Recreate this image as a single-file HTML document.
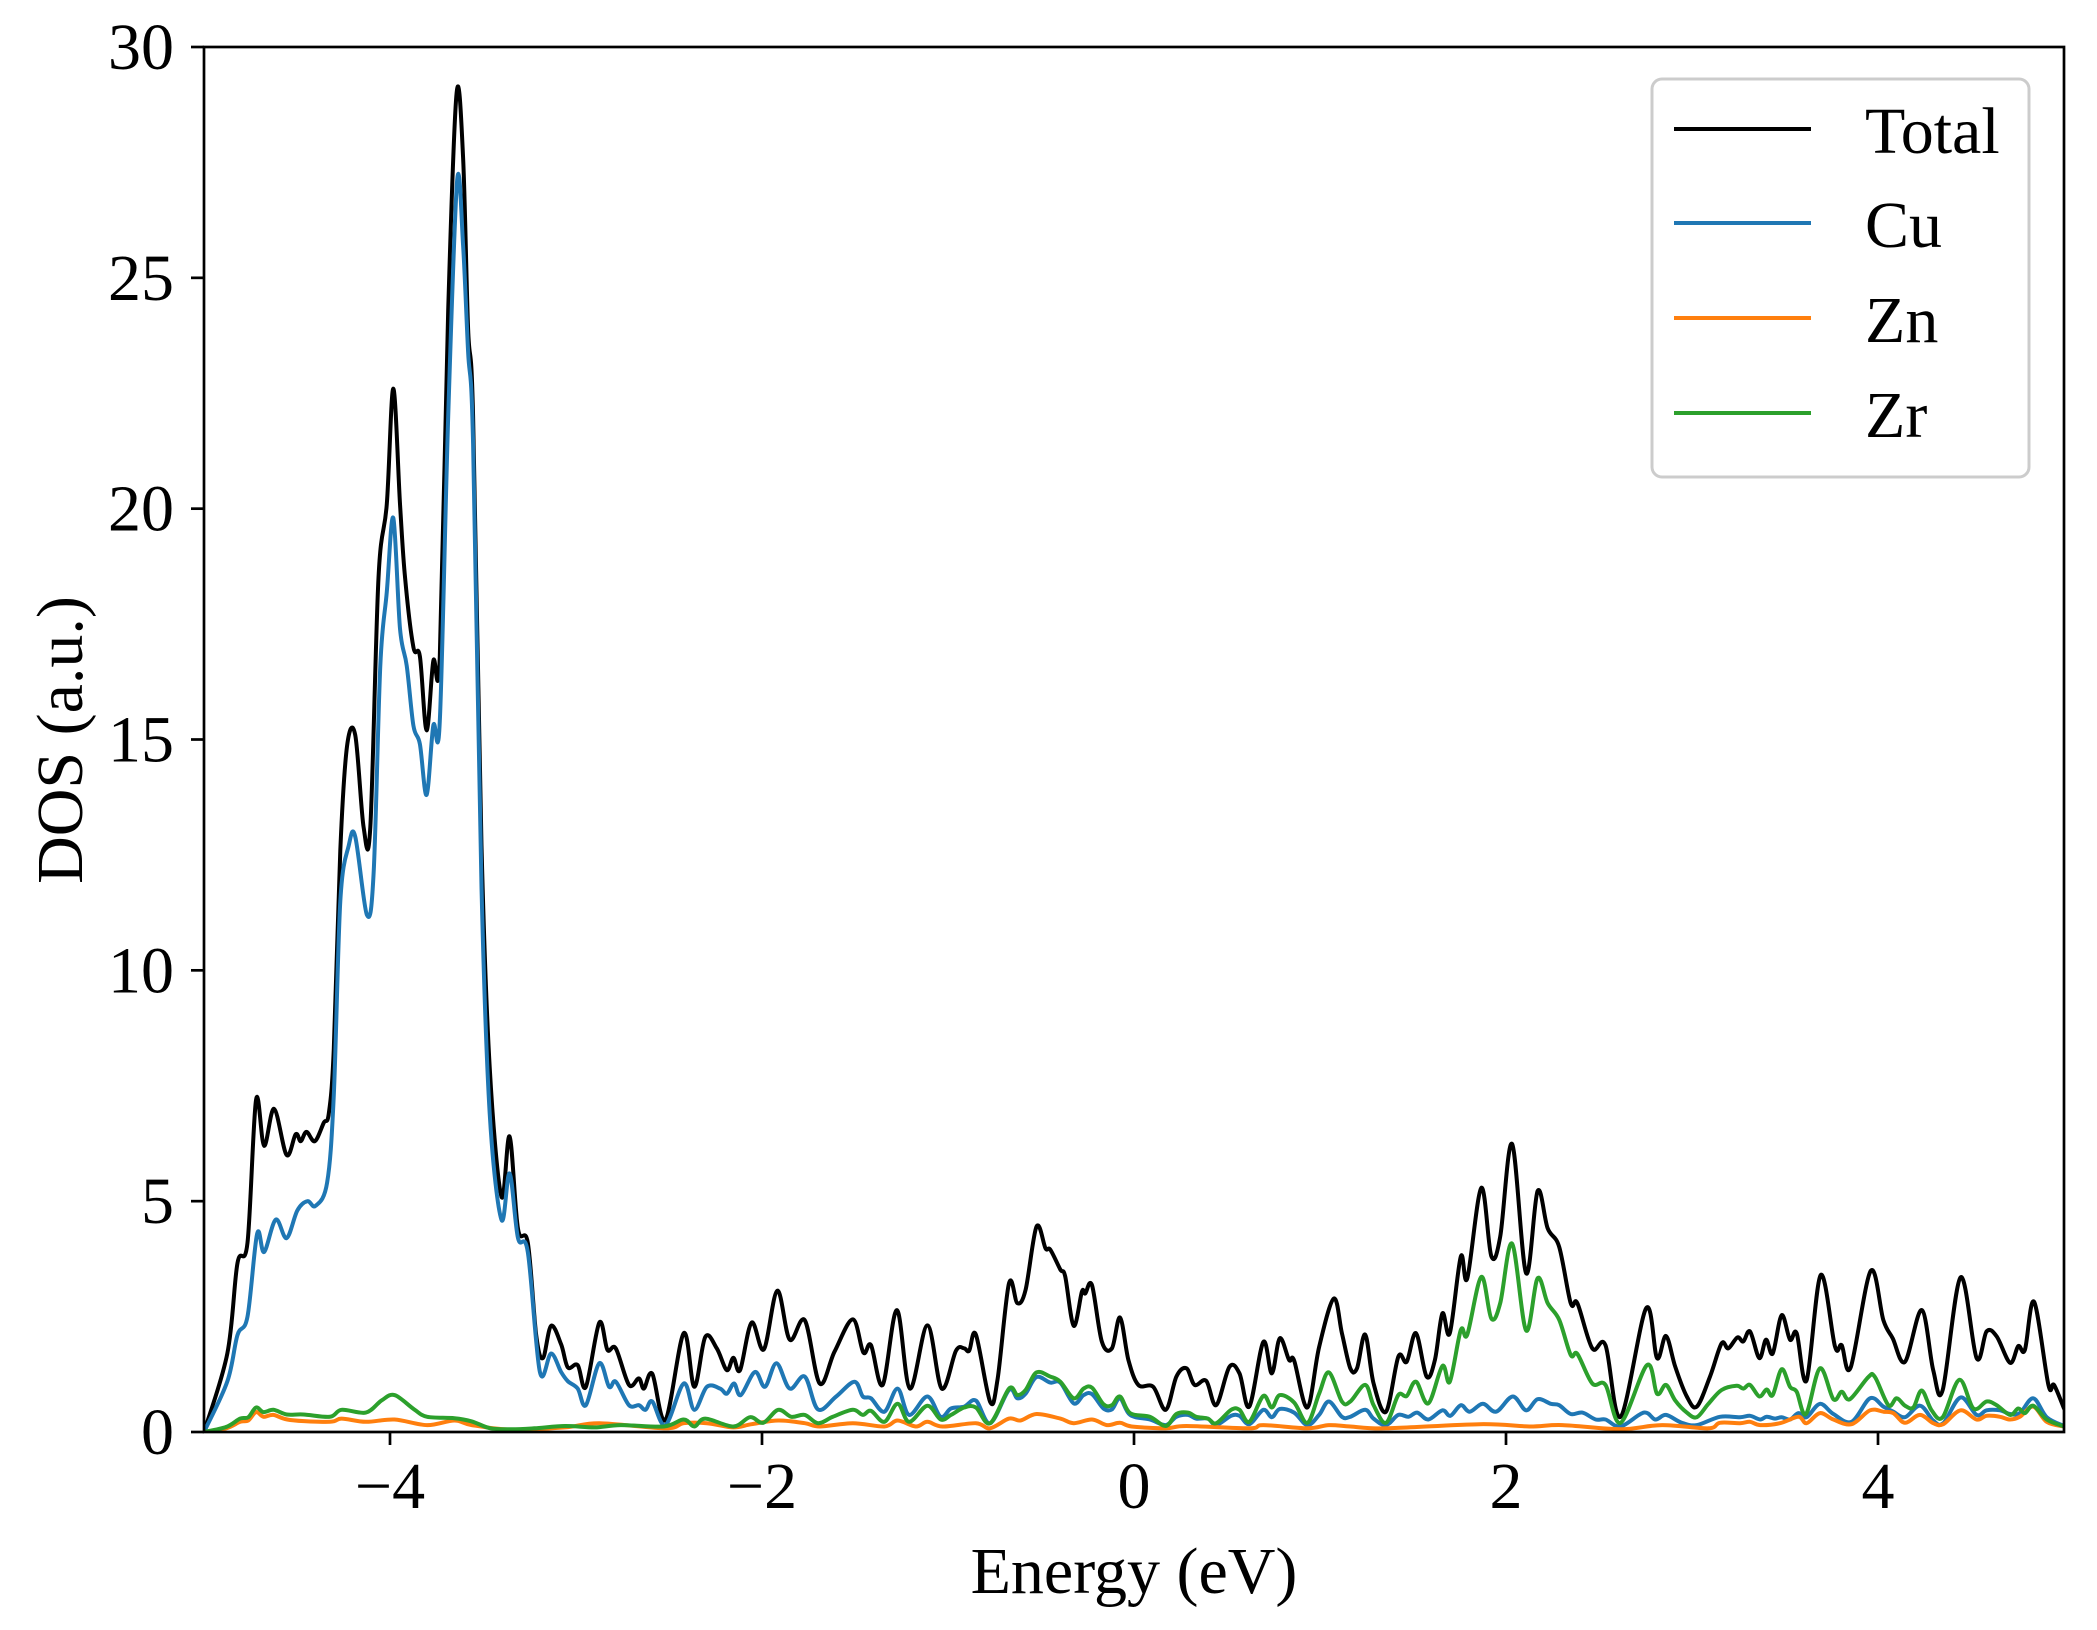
<!DOCTYPE html>
<html>
<head>
<meta charset="utf-8">
<style>
  html,body{margin:0;padding:0;background:#fff;}
  svg{display:block;}
  text{font-family:"Liberation Serif","DejaVu Serif",serif;fill:#000;}
</style>
</head>
<body>
<svg id="chart" width="2097" height="1630" viewBox="0 0 2097 1630" xmlns="http://www.w3.org/2000/svg">
  <rect x="0" y="0" width="2097" height="1630" fill="#fff"/>
  <defs>
    <clipPath id="plotclip"><rect x="204" y="47" width="1860" height="1385"/></clipPath>
  </defs>
  <g id="series" clip-path="url(#plotclip)"></g>
  <g id="axes"></g>
  <text x="1134" y="1593" font-size="66" text-anchor="middle">Energy (eV)</text>
  <text x="82" y="740" font-size="66" text-anchor="middle" transform="rotate(-90 82 740)">DOS (a.u.)</text>
  <g id="legend">
    <rect x="1652" y="79" width="377" height="398" rx="10" ry="10" fill="#fff" fill-opacity="0.8" stroke="#cccccc" stroke-width="3"/>
    <g>
      <line x1="1674" y1="129" x2="1811" y2="129" stroke="#000000" stroke-width="4"/>
      <text x="1865" y="153" font-size="66">Total</text>
    </g>
    <g>
      <line x1="1674" y1="223" x2="1811" y2="223" stroke="#1f77b4" stroke-width="4"/>
      <text x="1865" y="247" font-size="66">Cu</text>
    </g>
    <g>
      <line x1="1674" y1="318" x2="1811" y2="318" stroke="#ff7f0e" stroke-width="4"/>
      <text x="1865" y="342" font-size="66">Zn</text>
    </g>
    <g>
      <line x1="1674" y1="413" x2="1811" y2="413" stroke="#2ca02c" stroke-width="4"/>
      <text x="1865" y="437" font-size="66">Zr</text>
    </g>
  </g>
</svg>
<script>
const xTicks = [-4, -2, 0, 2, 4];
const xTickLabels = ["\u22124", "\u22122", "0", "2", "4"];
const yTicks = [0, 5, 10, 15, 20, 25, 30];
const yTickLabels = ["0", "5", "10", "15", "20", "25", "30"];

const totalE = [-5.0,-4.874,-4.82,-4.766,-4.72,-4.677,-4.623,-4.556,-4.507,-4.48,-4.449,-4.404,-4.356,-4.329,-4.302,-4.267,-4.231,-4.187,-4.142,-4.106,-4.062,-4.017,-3.982,-3.946,-3.919,-3.874,-3.839,-3.803,-3.767,-3.732,-3.687,-3.642,-3.607,-3.58,-3.553,-3.508,-3.464,-3.401,-3.357,-3.312,-3.259,-3.214,-3.178,-3.134,-3.08,-3.044,
-2.991,-2.947,-2.875,-2.831,-2.786,-2.715,-2.662,-2.635,-2.59,-2.519,-2.421,-2.364,-2.305,-2.243,-2.189,-2.154,-2.118,-2.056,-1.99,-1.918,-1.851,-1.77,-1.69,-1.61,-1.512,-1.455,-1.414,-1.351,-1.275,-1.205,-1.111,-1.034,
-0.957,-0.913,-0.886,-0.85,-0.773,-0.733,-0.672,-0.627,-0.583,-0.524,-0.476,-0.45,-0.396,-0.37,-0.324,-0.28,-0.262,-0.226,-0.173,-0.119,-0.075,-0.03,0.023,0.103,0.171,0.228,0.282,0.326,0.388,0.442,0.513,0.567,0.62,0.695,0.741,0.784,0.834,0.861,0.932,0.995,
1.074,1.118,1.163,1.199,1.243,1.288,1.355,1.421,1.466,1.516,1.573,1.618,1.658,1.698,1.757,1.792,1.867,1.921,1.969,2.033,2.108,2.17,2.224,2.286,2.348,2.384,2.464,2.535,2.616,2.753,2.812,2.86,2.91,2.972,3.026,
3.097,3.159,3.195,3.244,3.276,3.312,3.362,3.398,3.434,3.482,3.527,3.563,3.616,3.692,3.769,3.805,3.853,3.961,4.029,4.079,4.145,4.235,4.297,4.348,4.444,4.53,4.584,4.638,4.71,4.754,4.79,4.839,4.916,4.946,5.0];
const totalV = [0,1.71,3.66,4.1,7.2,6.2,7.0,6.0,6.45,6.3,6.5,6.3,6.7,6.9,8.3,12.6,14.85,15.1,13.1,13.1,18.5,20.1,22.6,20.1,18.5,17.0,16.8,15.2,16.7,16.8,24.3,29.0,27.6,23.9,22.0,12.7,7.9,5.1,6.4,4.4,4.1,2.1,1.6,2.3,1.9,1.4,
1.45,0.98,2.37,1.78,1.81,1.02,1.16,0.94,1.26,0.26,2.14,0.98,2.06,1.81,1.34,1.61,1.34,2.37,1.79,3.06,2.0,2.42,1.05,1.74,2.44,1.72,1.88,1.02,2.64,0.94,2.31,0.94,
1.76,1.81,1.76,2.11,0.65,1.16,3.22,2.79,3.08,4.45,3.98,3.95,3.52,3.37,2.3,3.04,3.0,3.18,1.96,1.81,2.48,1.56,1.02,0.98,0.48,1.2,1.38,1.02,1.11,0.58,1.41,1.27,0.55,1.95,1.27,2.03,1.56,1.55,0.53,1.84,
2.89,2.14,1.38,1.38,2.11,1.05,0.44,1.63,1.52,2.14,1.2,1.56,2.57,2.14,3.8,3.33,5.29,3.81,4.23,6.24,3.44,5.22,4.41,4.01,2.79,2.79,1.81,1.88,0.33,2.68,1.6,2.08,1.41,0.77,0.55,
1.2,1.92,1.81,2.05,1.96,2.18,1.6,2.0,1.7,2.53,2.0,2.14,1.12,3.4,1.85,1.88,1.4,3.49,2.42,2.03,1.52,2.64,1.34,0.91,3.35,1.6,2.18,2.07,1.5,1.86,1.78,2.82,1.02,1.02,0.51];

const cuE = [-5.0,-4.874,-4.82,-4.766,-4.714,-4.677,-4.614,-4.556,-4.498,-4.444,-4.4,-4.338,-4.302,-4.267,-4.222,-4.187,-4.124,-4.088,-4.052,-4.017,-3.982,-3.946,-3.91,-3.874,-3.839,-3.803,-3.767,-3.732,-3.687,-3.639,-3.607,-3.58,-3.553,-3.508,-3.464,-3.401,-3.357,-3.312,-3.259,-3.194,-3.134,-3.08,-3.044,
-2.991,-2.947,-2.875,-2.822,-2.786,-2.715,-2.662,-2.626,-2.59,-2.519,-2.421,-2.364,-2.296,-2.225,-2.189,-2.15,-2.114,-2.038,-1.984,-1.922,-1.851,-1.77,-1.699,-1.601,-1.503,-1.458,-1.414,-1.342,-1.271,-1.209,-1.111,-1.039,
-0.984,-0.913,-0.85,-0.773,-0.672,-0.627,-0.583,-0.524,-0.45,-0.396,-0.324,-0.271,-0.226,-0.164,-0.119,-0.075,-0.021,0.085,0.171,0.228,0.29,0.335,0.397,0.442,0.522,0.567,0.62,0.695,0.741,0.784,0.861,0.932,0.995,1.048,
1.118,1.163,1.243,1.288,1.355,1.421,1.475,1.523,1.582,1.658,1.701,1.757,1.805,1.876,1.947,2.036,2.108,2.17,2.241,2.286,2.348,2.411,2.482,2.535,2.616,2.741,2.803,2.86,2.945,3.026,
3.15,3.258,3.312,3.366,3.401,3.446,3.482,3.527,3.572,3.616,3.688,3.76,3.858,3.957,4.029,4.082,4.145,4.226,4.297,4.351,4.444,4.53,4.584,4.656,4.71,4.763,4.835,4.907,5.0];
const cuV = [0,1.1,2.1,2.5,4.3,3.9,4.6,4.2,4.8,5.0,4.9,5.4,7.3,11.5,12.7,12.9,11.2,12.1,16.6,18.2,19.8,17.4,16.6,15.3,14.9,13.8,15.3,15.4,22.0,27.1,25.7,23.4,21.4,11.8,6.9,4.6,5.6,4.2,3.9,1.3,1.7,1.3,1.1,
0.94,0.58,1.49,0.98,1.09,0.58,0.58,0.48,0.66,0.15,1.05,0.48,0.98,0.94,0.83,1.05,0.8,1.3,0.98,1.49,0.94,1.2,0.49,0.77,1.09,0.77,0.73,0.44,0.94,0.37,0.77,0.33,
0.51,0.55,0.68,0.19,0.91,0.73,0.83,1.19,1.07,1.07,0.62,0.8,0.82,0.51,0.49,0.73,0.37,0.27,0.15,0.33,0.37,0.29,0.29,0.15,0.35,0.35,0.17,0.48,0.32,0.5,0.42,0.15,0.37,0.66,
0.33,0.33,0.48,0.29,0.15,0.37,0.33,0.42,0.27,0.47,0.35,0.58,0.44,0.61,0.44,0.77,0.47,0.71,0.61,0.58,0.39,0.42,0.27,0.27,0.12,0.42,0.27,0.37,0.2,0.15,
0.33,0.32,0.35,0.27,0.33,0.29,0.32,0.27,0.41,0.32,0.61,0.39,0.22,0.73,0.55,0.44,0.32,0.57,0.25,0.19,0.75,0.37,0.47,0.47,0.39,0.41,0.73,0.32,0.13];

const znE = [-5.0,-4.88,-4.806,-4.762,-4.72,-4.68,-4.627,-4.537,-4.323,-4.26,-4.13,-3.976,-3.8,-3.654,-3.56,-3.344,-3.06,
-2.875,-2.519,-2.421,-2.296,-2.154,-2.056,-1.913,-1.77,-1.69,-1.512,-1.342,-1.271,-1.173,-1.111,-1.03,
-0.85,-0.774,-0.672,-0.61,-0.524,-0.396,-0.324,-0.226,-0.146,-0.075,-0.013,0.171,0.282,0.62,0.695,0.932,1.048,
1.163,1.355,1.858,2.126,2.304,2.616,2.839,3.088,
3.15,3.258,3.312,3.366,3.473,3.572,3.616,3.688,3.76,3.858,3.957,4.029,4.082,4.145,4.226,4.297,4.351,4.444,4.53,4.584,4.656,4.71,4.763,4.835,4.907,5.0];
const znV = [0,0.08,0.22,0.25,0.43,0.33,0.37,0.26,0.22,0.29,0.22,0.27,0.15,0.25,0.15,0.05,0.1,
0.19,0.08,0.19,0.19,0.1,0.17,0.25,0.19,0.12,0.19,0.12,0.25,0.12,0.22,0.12,
0.19,0.08,0.29,0.25,0.39,0.29,0.19,0.27,0.15,0.2,0.12,0.08,0.13,0.08,0.15,0.08,0.15,
0.12,0.08,0.17,0.12,0.15,0.06,0.15,0.08,
0.2,0.19,0.22,0.15,0.19,0.33,0.19,0.41,0.27,0.17,0.47,0.44,0.41,0.2,0.37,0.19,0.17,0.47,0.27,0.35,0.33,0.27,0.33,0.55,0.22,0.12];

const zrE = [-5.0,-4.88,-4.806,-4.762,-4.72,-4.68,-4.627,-4.555,-4.466,-4.323,-4.26,-4.13,-4.046,-3.976,-3.87,-3.8,-3.654,-3.56,-3.46,-3.344,-3.224,-3.06,-2.9,
-2.76,-2.528,-2.421,-2.364,-2.305,-2.154,-2.064,-1.993,-1.913,-1.842,-1.77,-1.699,-1.619,-1.512,-1.458,-1.414,-1.342,-1.271,-1.209,-1.111,-1.039,
-0.984,-0.913,-0.85,-0.773,-0.672,-0.627,-0.583,-0.524,-0.45,-0.396,-0.324,-0.271,-0.226,-0.164,-0.119,-0.075,-0.021,0.085,0.171,0.228,0.29,0.335,0.397,0.442,0.522,0.567,0.62,0.695,0.741,0.784,0.861,0.932,0.995,1.048,
1.118,1.163,1.243,1.288,1.355,1.421,1.466,1.516,1.582,1.658,1.698,1.757,1.792,1.867,1.921,1.969,2.033,2.108,2.17,2.224,2.286,2.348,2.384,2.464,2.535,2.616,2.758,2.812,2.86,2.91,2.972,3.026,
3.088,3.159,3.24,3.276,3.312,3.362,3.401,3.434,3.482,3.527,3.563,3.613,3.688,3.76,3.805,3.849,3.948,3.984,4.056,4.1,4.145,4.19,4.235,4.288,4.348,4.437,4.513,4.584,4.638,4.71,4.754,4.79,4.835,4.907,5.0];
const zrV = [0,0.11,0.29,0.32,0.53,0.43,0.48,0.38,0.38,0.33,0.48,0.42,0.68,0.8,0.49,0.33,0.3,0.23,0.08,0.06,0.08,0.13,0.1,
0.15,0.12,0.27,0.12,0.29,0.12,0.32,0.2,0.48,0.33,0.37,0.19,0.33,0.48,0.37,0.46,0.22,0.61,0.22,0.57,0.27,
0.37,0.53,0.53,0.19,0.94,0.8,0.91,1.29,1.2,1.09,0.73,0.94,0.96,0.6,0.58,0.77,0.41,0.33,0.13,0.39,0.42,0.33,0.29,0.19,0.48,0.48,0.22,0.78,0.53,0.8,0.64,0.2,0.83,1.29,
0.66,0.66,1.02,0.58,0.2,0.8,0.78,1.09,0.62,1.43,1.09,2.21,2.11,3.36,2.46,2.79,4.08,2.2,3.33,2.79,2.43,1.67,1.69,1.05,1.02,0.2,1.45,0.83,1.02,0.68,0.42,0.32,
0.61,0.91,1.0,0.94,1.02,0.77,0.92,0.8,1.36,0.98,0.87,0.39,1.38,0.71,0.87,0.71,1.19,1.19,0.58,0.73,0.57,0.53,0.9,0.47,0.32,1.13,0.51,0.66,0.58,0.37,0.51,0.41,0.57,0.27,0.12];

const NS = "http://www.w3.org/2000/svg";
const X0 = 204, X1 = 2064, Y0 = 1432, Y1 = 47;
const xMin = -5, xMax = 5, yMin = 0, yMax = 30;
function xs(e){ return X0 + (e - xMin) / (xMax - xMin) * (X1 - X0); }
function ys(v){ return Y0 - (v - yMin) / (yMax - yMin) * (Y0 - Y1); }

function smoothPath(E, V){
  const p = E.map((e,i)=>[xs(e), ys(V[i])]);
  let d = "M" + p[0][0].toFixed(1) + "," + p[0][1].toFixed(1);
  for (let i=0;i<p.length-1;i++){
    const p0 = p[Math.max(0,i-1)], p1 = p[i], p2 = p[i+1], p3 = p[Math.min(p.length-1,i+2)];
    const c1x = p1[0] + (p2[0]-p0[0])/6, c1y = p1[1] + (p2[1]-p0[1])/6;
    const c2x = p2[0] - (p3[0]-p1[0])/6, c2y = p2[1] - (p3[1]-p1[1])/6;
    d += " C" + c1x.toFixed(1)+","+c1y.toFixed(1)+" "+c2x.toFixed(1)+","+c2y.toFixed(1)+" "+p2[0].toFixed(1)+","+p2[1].toFixed(1);
  }
  return d;
}

const seriesG = document.getElementById("series");
function addLine(E, V, color, name){
  const path = document.createElementNS(NS, "path");
  path.setAttribute("d", smoothPath(E, V));
  path.setAttribute("fill", "none");
  path.setAttribute("stroke", color);
  path.setAttribute("stroke-width", "4");
  path.setAttribute("stroke-linejoin", "round");
  path.setAttribute("stroke-linecap", "round");
  
  
  seriesG.appendChild(path);
}
addLine(totalE, totalV, "#000000", "line-total");
addLine(cuE, cuV, "#1f77b4", "line-cu");
addLine(znE, znV, "#ff7f0e", "line-zn");
addLine(zrE, zrV, "#2ca02c", "line-zr");

const axesG = document.getElementById("axes");
const frame = document.createElementNS(NS, "rect");
frame.setAttribute("x", X0); frame.setAttribute("y", Y1);
frame.setAttribute("width", X1 - X0); frame.setAttribute("height", Y0 - Y1);
frame.setAttribute("fill", "none"); frame.setAttribute("stroke", "#000"); frame.setAttribute("stroke-width", "2.7");


axesG.appendChild(frame);

xTicks.forEach((t, i) => {
  const x = xs(t);
  const ln = document.createElementNS(NS, "line");
  ln.setAttribute("x1", x); ln.setAttribute("x2", x);
  ln.setAttribute("y1", Y0); ln.setAttribute("y2", Y0 + 13);
  ln.setAttribute("stroke", "#000"); ln.setAttribute("stroke-width", "2.7");
  
  
  axesG.appendChild(ln);
  const tx = document.createElementNS(NS, "text");
  tx.setAttribute("x", x); tx.setAttribute("y", 1508);
  tx.setAttribute("font-size", "66"); tx.setAttribute("text-anchor", "middle");
  tx.textContent = xTickLabels[i];
  
  
  axesG.appendChild(tx);
});
yTicks.forEach((t, i) => {
  const y = ys(t);
  const ln = document.createElementNS(NS, "line");
  ln.setAttribute("x1", X0 - 13); ln.setAttribute("x2", X0);
  ln.setAttribute("y1", y); ln.setAttribute("y2", y);
  ln.setAttribute("stroke", "#000"); ln.setAttribute("stroke-width", "2.7");
  
  
  axesG.appendChild(ln);
  const tx = document.createElementNS(NS, "text");
  tx.setAttribute("x", 174); tx.setAttribute("y", y + 22);
  tx.setAttribute("font-size", "66"); tx.setAttribute("text-anchor", "end");
  tx.textContent = yTickLabels[i];
  
  
  axesG.appendChild(tx);
});
</script>
</body>
</html>
